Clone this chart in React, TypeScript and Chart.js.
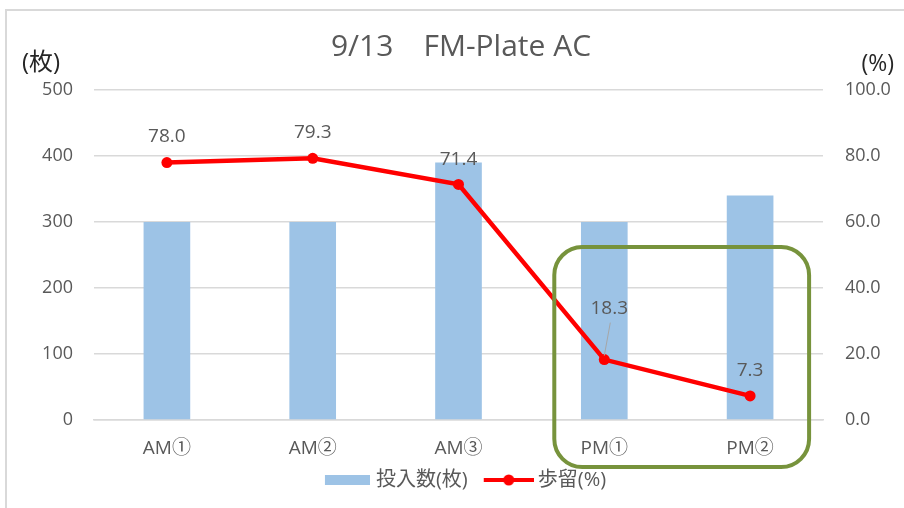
import React, { useEffect, useRef } from 'react';
import { Chart, registerables } from 'chart.js';

Chart.register(...registerables);

const categories = ['AM①', 'AM②', 'AM③', 'PM①', 'PM②'];
const inputCounts = [300, 300, 390, 300, 340];
const yieldPct = [78.0, 79.3, 71.4, 18.3, 7.3];
const leftTickValues = [0, 100, 200, 300, 400, 500];
const rightTickValues = [0, 20, 40, 60, 80, 100];
const titleText = '9/13　FM-Plate AC';
const barLabel = '投入数(枚)';
const lineLabel = '歩留(%)';
const leftUnit = '(枚)';
const rightUnit = '(%)';

const FONT = "'Open Sans', 'Noto Sans CJK JP', sans-serif";
const TEXT = '#595959';
const BAR = '#9DC3E6';
const RED = '#FF0000';
const GREEN = '#77933C';

function makeBarIcon() {
  const c = document.createElement('canvas');
  c.width = 58; c.height = 10;
  const g = c.getContext('2d')!;
  g.fillStyle = BAR;
  g.fillRect(13, 0, 45, 10);
  return c;
}
function makeLineIcon() {
  const c = document.createElement('canvas');
  c.width = 62; c.height = 12;
  const g = c.getContext('2d')!;
  g.strokeStyle = RED; g.lineWidth = 4;
  g.beginPath(); g.moveTo(12, 6); g.lineTo(62, 6); g.stroke();
  g.fillStyle = RED;
  g.beginPath(); g.arc(37, 6, 5.5, 0, Math.PI * 2); g.fill();
  return c;
}

const overlayPlugin = {
  id: 'overlay',
  afterDatasetsDraw(chart: any) {
    const { ctx, chartArea, scales } = chart;
    const xs = scales.x;
    const y1 = scales.y1;
    const y = scales.y;
    ctx.save();
    // unit titles
    ctx.font = `24px ${FONT}`;
    ctx.fillStyle = '#262626';
    ctx.textBaseline = 'middle';
    ctx.textAlign = 'left';
    ctx.fillText(leftUnit, 22, 63);
    ctx.font = `23px ${FONT}`;
    ctx.textAlign = 'right';
    ctx.fillText(rightUnit, 894, 64);

    // data labels
    const offsets = [[0, -26], [0, -26], [0, -25], [5, -51], [0, -25]];
    ctx.font = `19px ${FONT}`;
    ctx.fillStyle = '#595959';
    ctx.textAlign = 'center';
    yieldPct.forEach((v, i) => {
      const px = xs.getPixelForValue(i);
      const py = y1.getPixelForValue(v);
      const lx = px + offsets[i][0];
      const ly = py + offsets[i][1];
      ctx.fillText(v.toFixed(1), lx, ly);
      if (i === 3) {
        ctx.strokeStyle = '#A6A6A6';
        ctx.lineWidth = 1;
        ctx.beginPath();
        ctx.moveTo(lx + 1, ly + 14);
        ctx.lineTo(px, py - 4);
        ctx.stroke();
      }
    });

    // highlight box
    const left = xs.getPixelForValue(3) - 50;
    const right = xs.getPixelForValue(4) + 59;
    const top = y.getPixelForValue(262);
    const bottom = chartArea.bottom + 47;
    const r = 28;
    ctx.strokeStyle = GREEN;
    ctx.lineWidth = 4;
    ctx.beginPath();
    ctx.moveTo(left + r, top);
    ctx.lineTo(right - r, top);
    ctx.arcTo(right, top, right, top + r, r);
    ctx.lineTo(right, bottom - r);
    ctx.arcTo(right, bottom, right - r, bottom, r);
    ctx.lineTo(left + r, bottom);
    ctx.arcTo(left, bottom, left, bottom - r, r);
    ctx.lineTo(left, top + r);
    ctx.arcTo(left, top, left + r, top, r);
    ctx.closePath();
    ctx.stroke();
    ctx.restore();
  },
};

export default function App() {
  const ref = useRef<HTMLCanvasElement>(null);
  useEffect(() => {
    document.body.style.margin = '0';
    const barIcon = makeBarIcon();
    const lineIcon = makeLineIcon();
    const chart = new Chart(ref.current!, {
      type: 'bar',
      data: {
        labels: categories,
        datasets: [
          {
            type: 'line',
            label: lineLabel,
            data: yieldPct,
            yAxisID: 'y1',
            borderColor: RED,
            backgroundColor: RED,
            borderWidth: 4.5,
            pointRadius: 5.5,
            pointBackgroundColor: RED,
            pointBorderWidth: 0,
            order: 0,
          } as any,
          {
            type: 'bar',
            label: barLabel,
            data: inputCounts,
            yAxisID: 'y',
            backgroundColor: BAR,
            categoryPercentage: 1,
            barPercentage: 0.32,
            order: 1,
          },
        ],
      },
      options: {
        animation: false,
        responsive: false,
        layout: { padding: { left: 18, right: 0, top: 0, bottom: 8 } },
        plugins: {
          tooltip: { enabled: false },
          title: {
            display: true,
            text: titleText,
            color: TEXT,
            font: { family: FONT, size: 30, weight: 'normal' },
            padding: { top: 29, bottom: 25 },
          },
          legend: {
            position: 'bottom',
            labels: {
              usePointStyle: true,
              pointStyleWidth: 50,
              color: TEXT,
              font: { family: FONT, size: 20 },
              padding: 10,
              generateLabels: () => [
                { text: barLabel, pointStyle: barIcon, datasetIndex: 1, fillStyle: BAR, strokeStyle: BAR, lineWidth: 0, fontColor: TEXT } as any,
                { text: lineLabel, pointStyle: lineIcon, datasetIndex: 0, fillStyle: RED, strokeStyle: RED, lineWidth: 0, fontColor: TEXT } as any,
              ],
            },
          },
        },
        scales: {
          x: {
            grid: { display: false, drawTicks: false },
            border: { display: true, color: '#D9D9D9', width: 1.5 },
            ticks: { color: TEXT, font: { family: FONT, size: 19 }, padding: 17 },
            afterFit: (s: any) => { s.height = 40; },
          },
          y: {
            position: 'left',
            min: 0,
            max: 500,
            afterBuildTicks: (s: any) => { s.ticks = leftTickValues.map((v) => ({ value: v })); },
            ticks: { color: TEXT, font: { family: FONT, size: 18 }, padding: 21 },
            grid: { color: '#D9D9D9', lineWidth: 1.5, drawTicks: false },
            border: { display: false },
            afterFit: (s: any) => { s.width = 76; },
          },
          y1: {
            position: 'right',
            min: 0,
            max: 100,
            afterBuildTicks: (s: any) => { s.ticks = rightTickValues.map((v) => ({ value: v })); },
            ticks: {
              color: TEXT,
              font: { family: FONT, size: 18 },
              padding: 22,
              callback: (v: any) => Number(v).toFixed(1),
            },
            grid: { display: false, drawTicks: false },
            border: { display: false },
            afterFit: (s: any) => { s.width = 81; },
          },
        },
      },
      plugins: [overlayPlugin],
    } as any);
    return () => chart.destroy();
  }, []);

  return (
    <div style={{ position: 'relative', width: 904, height: 508, background: '#fff', overflow: 'hidden' }}>
      <canvas ref={ref} width={904} height={508} style={{ display: 'block' }} />
      <div
        style={{
          position: 'absolute',
          left: 5,
          top: 9,
          width: 910,
          height: 510,
          borderLeft: '2px solid #D9D9D9',
          borderTop: '2px solid #D9D9D9',
          pointerEvents: 'none',
        }}
      />
    </div>
  );
}
